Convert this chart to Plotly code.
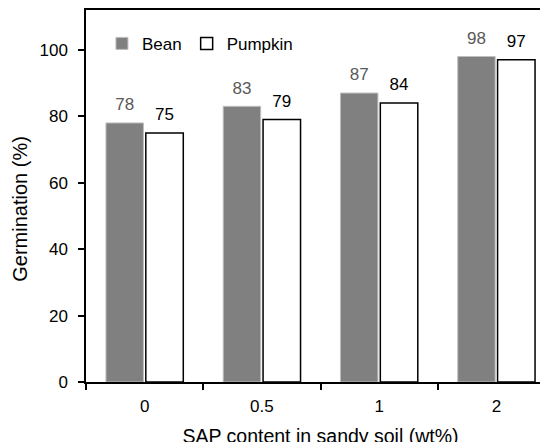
import plotly.graph_objects as go

categories = ["0", "0.5", "1", "2"]
bean = [78, 83, 87, 98]
pumpkin = [75, 79, 84, 97]
y_ticks = [0, 20, 40, 60, 80, 100]

FONT = "Liberation Sans, Arial, sans-serif"

fig = go.Figure()
fig.add_bar(x=categories, y=bean, name="Bean", offsetgroup="bean",
            marker=dict(color="#808080", line=dict(color="#bfbfbf", width=1)),
            hoverinfo="skip")
fig.add_bar(x=categories, y=pumpkin, name="Pumpkin", offsetgroup="pumpkin",
            marker=dict(color="#ffffff", line=dict(color="#000000", width=1.5)),
            hoverinfo="skip")
# value labels
fig.add_scatter(x=categories, y=bean, text=[str(v) for v in bean], mode="markers+text",
                textposition="top center", offsetgroup="bean", showlegend=False,
                marker=dict(size=12, opacity=0), cliponaxis=False,
                textfont=dict(family=FONT, size=17, color="#595959"), hoverinfo="skip")
fig.add_scatter(x=categories, y=pumpkin, text=[str(v) for v in pumpkin], mode="markers+text",
                textposition="top center", offsetgroup="pumpkin", showlegend=False,
                marker=dict(size=12, opacity=0), cliponaxis=False,
                textfont=dict(family=FONT, size=17, color="#000000"), hoverinfo="skip")

fig.update_layout(
    width=547, height=442, autosize=False,
    margin=dict(l=78, r=0, t=2, b=68),
    paper_bgcolor="white", plot_bgcolor="white",
    font=dict(family=FONT, size=17, color="#000000"),
    barmode="group", bargap=0.32, bargroupgap=0.06,
    scattermode="group", scattergap=0.32,
    showlegend=True,
    legend=dict(orientation="h", x=0.034, xanchor="left", y=0.909, yanchor="middle",
                font=dict(family=FONT, size=17, color="#000000"),
                bgcolor="rgba(0,0,0,0)", borderwidth=0, itemwidth=30,
                traceorder="normal"),
    xaxis=dict(type="category", range=[-0.5, 3.5], autorange=False, automargin=False,
               showline=True, linecolor="#000000", linewidth=1.5, mirror=True,
               ticks="outside", ticklen=6, tickwidth=1.5, tickcolor="#000000",
               tickson="boundaries", showgrid=False, zeroline=False,
               ticklabelstandoff=8,
               tickfont=dict(family=FONT, size=17),
               title=dict(text="SAP content in sandy soil (wt%)", standoff=14,
                          font=dict(family=FONT, size=19.5))),
    yaxis=dict(range=[0, 112], autorange=False, tickvals=y_ticks, automargin=False,
               showline=True, linecolor="#000000", linewidth=1.5, mirror=True,
               ticks="outside", ticklen=6, tickwidth=1.5, tickcolor="#000000",
               showgrid=False, zeroline=False, ticklabelstandoff=7,
               tickfont=dict(family=FONT, size=17)),
    annotations=[dict(text="Germination (%)", textangle=-90, showarrow=False,
                      xref="paper", yref="paper", x=-0.1397, y=0.467,
                      xanchor="center", yanchor="middle",
                      font=dict(family=FONT, size=20, color="#000000"))],
)

fig.write_html("out.html")
